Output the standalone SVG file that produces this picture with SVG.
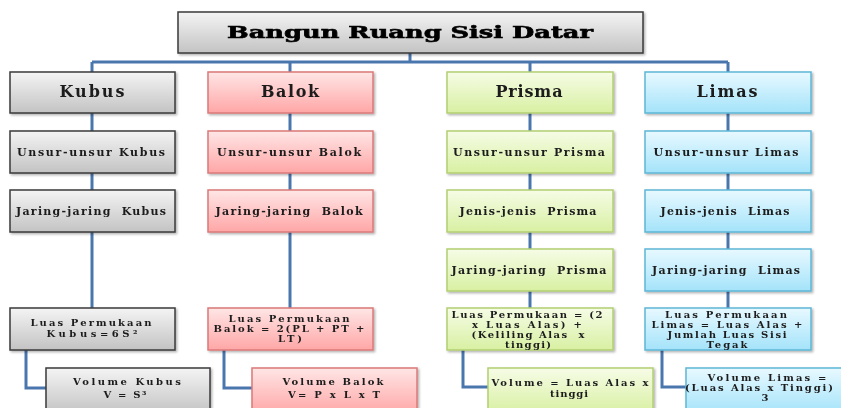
<svg xmlns="http://www.w3.org/2000/svg" width="841" height="408" viewBox="0 0 841 408">
<style>
.t{font-family:"DejaVu Serif","Liberation Serif",serif;font-weight:bold;fill:#1c1c1c;text-anchor:middle}
.s{font-size:11px}
.m{font-size:10px}
.h{font-size:16px}
.title{font-family:"DejaVu Serif","Liberation Serif",serif;font-weight:900;font-size:17px;fill:#000;stroke:#000;stroke-width:0.6;text-anchor:middle}
.conn{fill:none;stroke:#4a76ae;stroke-width:3}
.gray{fill:url(#gGray);stroke:#3a3a3a;stroke-width:1.5}
.pink{fill:url(#gPink);stroke:#dc7878;stroke-width:1.5}
.green{fill:url(#gGreen);stroke:#b3cf72;stroke-width:1.5}
.cyan{fill:url(#gCyan);stroke:#5db7d6;stroke-width:1.5}
.box{filter:url(#sh)}
</style>
<defs>
<linearGradient id="gGray" x1="0" y1="0" x2="0" y2="1"><stop offset="0" stop-color="#f4f4f4"/><stop offset="1" stop-color="#c3c3c3"/></linearGradient>
<linearGradient id="gPink" x1="0" y1="0" x2="0" y2="1"><stop offset="0" stop-color="#ffe6e6"/><stop offset="1" stop-color="#ffa6a6"/></linearGradient>
<linearGradient id="gGreen" x1="0" y1="0" x2="0" y2="1"><stop offset="0" stop-color="#f6fce6"/><stop offset="1" stop-color="#d8f0a2"/></linearGradient>
<linearGradient id="gCyan" x1="0" y1="0" x2="0" y2="1"><stop offset="0" stop-color="#e8f9ff"/><stop offset="1" stop-color="#a4e3fa"/></linearGradient>
<filter id="sh" x="-5%" y="-10%" width="115%" height="130%"><feDropShadow dx="1.5" dy="1.5" stdDeviation="1" flood-color="#000" flood-opacity="0.3"/></filter>
</defs>
<rect width="841" height="408" fill="#fff"/>

<g id="connectors">
<path class="conn" d="M410 53V62M92 62H728M92 62V72M290 62V72M530 62V72M728 62V72"/>
<path class="conn" d="M92 113V131M92 173V190M92 232V308"/>
<path class="conn" d="M290 113V131M290 173V190M290 232V308"/>
<path class="conn" d="M530 113V131M530 173V190M530 232V249M530 291V308"/>
<path class="conn" d="M728 113V131M728 173V190M728 232V249M728 291V308"/>
<path class="conn" d="M26 350V388H46M224 350V388H252M463 350V387H488M662 350V387H686"/>
</g>

<g id="title" class="box"><rect class="gray" x="178" y="12" width="465" height="41"/><text class="title" x="410" y="38" textLength="366" lengthAdjust="spacingAndGlyphs">Bangun Ruang Sisi Datar</text></g>

<g id="kubus" class="box"><rect class="gray" x="10" y="72" width="165" height="41"/><text class="t h" x="92" y="97" textLength="65" lengthAdjust="spacing">Kubus</text></g>
<g id="balok" class="box"><rect class="pink" x="208" y="72" width="165" height="41"/><text class="t h" x="290" y="97" textLength="58" lengthAdjust="spacing">Balok</text></g>
<g id="prisma" class="box"><rect class="green" x="447" y="72" width="166" height="41"/><text class="t h" x="529" y="97" textLength="67" lengthAdjust="spacing">Prisma</text></g>
<g id="limas" class="box"><rect class="cyan" x="645" y="72" width="166" height="41"/><text class="t h" x="727" y="97" textLength="61" lengthAdjust="spacing">Limas</text></g>

<g id="unsur-kubus" class="box"><rect class="gray" x="10" y="131" width="165" height="42"/><text class="t s" x="91" y="156" textLength="148" lengthAdjust="spacing">Unsur-unsur Kubus</text></g>
<g id="unsur-balok" class="box"><rect class="pink" x="208" y="131" width="165" height="42"/><text class="t s" x="289" y="156" textLength="144" lengthAdjust="spacing">Unsur-unsur Balok</text></g>
<g id="unsur-prisma" class="box"><rect class="green" x="447" y="131" width="166" height="42"/><text class="t s" x="529" y="156" textLength="152" lengthAdjust="spacing">Unsur-unsur Prisma</text></g>
<g id="unsur-limas" class="box"><rect class="cyan" x="645" y="131" width="166" height="42"/><text class="t s" x="726" y="156" textLength="145" lengthAdjust="spacing">Unsur-unsur Limas</text></g>

<g id="jaring-kubus" class="box"><rect class="gray" x="10" y="190" width="165" height="42"/><text class="t s" x="91" y="215" textLength="150" lengthAdjust="spacing" xml:space="preserve">Jaring-jaring  Kubus</text></g>
<g id="jaring-balok" class="box"><rect class="pink" x="208" y="190" width="165" height="42"/><text class="t s" x="289" y="215" textLength="147" lengthAdjust="spacing" xml:space="preserve">Jaring-jaring  Balok</text></g>
<g id="jenis-prisma" class="box"><rect class="green" x="447" y="190" width="166" height="42"/><text class="t s" x="528" y="215" textLength="137" lengthAdjust="spacing" xml:space="preserve">Jenis-jenis  Prisma</text></g>
<g id="jenis-limas" class="box"><rect class="cyan" x="645" y="190" width="166" height="42"/><text class="t s" x="725" y="215" textLength="129" lengthAdjust="spacing" xml:space="preserve">Jenis-jenis  Limas</text></g>

<g id="jaring-prisma" class="box"><rect class="green" x="447" y="249" width="166" height="42"/><text class="t s" x="529" y="274" textLength="155" lengthAdjust="spacing" xml:space="preserve">Jaring-jaring  Prisma</text></g>
<g id="jaring-limas" class="box"><rect class="cyan" x="645" y="249" width="166" height="42"/><text class="t s" x="726" y="274" textLength="148" lengthAdjust="spacing" xml:space="preserve">Jaring-jaring  Limas</text></g>

<g id="luas-kubus" class="box"><rect class="gray" x="10" y="308" width="165" height="42"/>
<text class="t m" x="91" y="326" textLength="121" lengthAdjust="spacing">Luas Permukaan</text>
<text class="t m" x="92" y="337" textLength="91" lengthAdjust="spacing">Kubus=6S²</text></g>
<g id="luas-balok" class="box"><rect class="pink" x="208" y="308" width="165" height="42"/>
<text class="t m" x="289" y="322" textLength="121" lengthAdjust="spacing">Luas Permukaan</text>
<text class="t m" x="289" y="332" textLength="151" lengthAdjust="spacing">Balok = 2(PL + PT +</text>
<text class="t m" x="290" y="342" textLength="24" lengthAdjust="spacing">LT)</text></g>
<g id="luas-prisma" class="box"><rect class="green" x="447" y="308" width="166" height="42"/>
<text class="t m" x="527" y="317.5" textLength="151" lengthAdjust="spacing">Luas Permukaan = (2</text>
<text class="t m" x="527" y="327.5" textLength="110" lengthAdjust="spacing">x Luas Alas) +</text>
<text class="t m" x="528" y="337.5" textLength="113" lengthAdjust="spacing" xml:space="preserve">(Keliling Alas  x</text>
<text class="t m" x="528" y="347.5" textLength="46" lengthAdjust="spacing">tinggi)</text></g>
<g id="luas-limas" class="box"><rect class="cyan" x="645" y="308" width="166" height="42"/>
<text class="t m" x="726" y="317.5" textLength="122" lengthAdjust="spacing">Luas Permukaan</text>
<text class="t m" x="727" y="327.5" textLength="151" lengthAdjust="spacing">Limas = Luas Alas +</text>
<text class="t m" x="727" y="337.5" textLength="119" lengthAdjust="spacing">Jumlah Luas Sisi</text>
<text class="t m" x="727" y="347.5" textLength="41" lengthAdjust="spacing">Tegak</text></g>

<g id="volume-kubus" class="box"><rect class="gray" x="46" y="368" width="164" height="46"/>
<text class="t m" x="127" y="385" textLength="108" lengthAdjust="spacing">Volume Kubus</text>
<text class="t m" x="125" y="398" textLength="43" lengthAdjust="spacing">V = S³</text></g>
<g id="volume-balok" class="box"><rect class="pink" x="252" y="368" width="165" height="46"/>
<text class="t m" x="333" y="385" textLength="101" lengthAdjust="spacing">Volume Balok</text>
<text class="t m" x="334" y="398" textLength="92" lengthAdjust="spacing">V= P x L x T</text></g>
<g id="volume-prisma" class="box"><rect class="green" x="488" y="368" width="165" height="46"/>
<text class="t m" x="570" y="386" textLength="157" lengthAdjust="spacing">Volume = Luas Alas x</text>
<text class="t m" x="569" y="397" textLength="38" lengthAdjust="spacing">tinggi</text></g>
<g id="volume-limas" class="box"><rect class="cyan" x="686" y="368" width="165" height="46"/>
<text class="t m" x="767" y="381" textLength="119" lengthAdjust="spacing">Volume Limas =</text>
<text class="t m" x="759" y="391" textLength="148" lengthAdjust="spacing">(Luas Alas x Tinggi)</text>
<text class="t m" x="765" y="401">3</text></g>
</svg>
